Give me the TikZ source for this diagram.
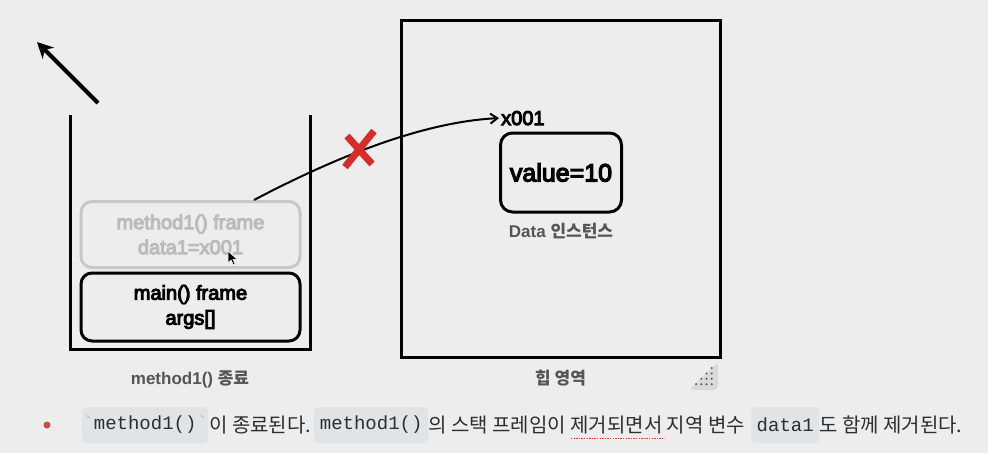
\documentclass[tikz,border=0pt]{standalone}
\usepackage{fontspec}
\usepackage{tikz}
\usetikzlibrary{arrows.meta}
\setmainfont{Liberation Sans}
\newfontfamily\medfont{Liberation Sans}[FakeBold = 5]
\newfontfamily\krfont{Noto Sans CJK KR}
\newfontfamily\codefont{Liberation Mono}
\definecolor{bg}{HTML}{EDEDED}
\definecolor{ghostgray}{HTML}{C8C8C8}
\definecolor{ghosttext}{HTML}{BBBBBB}
\definecolor{labelgray}{HTML}{555555}
\definecolor{crossred}{HTML}{D92B2B}
\definecolor{codebg}{HTML}{E1E3E4}
\definecolor{inkdark}{HTML}{2E2E2E}
\definecolor{bulletred}{HTML}{C94A4A}
\definecolor{spellred}{HTML}{D84040}
\definecolor{gripgray}{HTML}{DADADA}
\definecolor{gripdot}{HTML}{555555}

\begin{document}
\begin{tikzpicture}[x = 1pt, y = -1pt,
  stackframe/.style = {draw, line width = 3pt, rounded corners = 11pt,
    minimum width = 219pt, align = center,
    font = \medfont\fontsize{20}{25}\selectfont},
  ghost/.style = {stackframe, draw = ghostgray, text = ghosttext},
  heaplabel/.style = {text = labelgray, font = \bfseries\fontsize{17}{20}\selectfont},
  codespan/.style = {fill = codebg, rounded corners = 4pt, anchor = west,
    minimum height = 36pt, inner xsep = 0pt, text = inkdark,
    font = \codefont\fontsize{19}{22}\selectfont},
  prose/.style = {anchor = west, inner sep = 0pt, text = inkdark,
    font = \krfont\fontsize{20}{24}\selectfont}]
\fill [bg] (0, 0) rectangle (988, 453);
%\draw[very thin, color = gray] (0, 0) grid[step = 50] (988, 453);

% stack
\draw [line width = 3pt] (70, 115) |- (310, 349) -- (310, 115);
\node (m1) [ghost, minimum height = 66pt] at (190.5, 234.5) {method1() frame\\data1=x001};
\node (main) [stackframe, minimum height = 68pt] at (190.5, 307) {main() frame\\args[]};
\node (stacklbl) [heaplabel] at (190, 379) {method1() {\krfont 종료}};
\fill [black, draw = white, line width = 0.5pt] (228, 251) -- (228, 263) -- (231, 260)
  -- (233.5, 265) -- (235.2, 264.2) -- (232.9, 259.4) -- (237, 259.4) -- cycle;

% heap
\draw [line width = 3pt] (401, 20) rectangle (720, 357);
\node (data) [stackframe, minimum width = 121pt, minimum height = 79pt,
  rounded corners = 12pt, font = \medfont\fontsize{25}{30}\selectfont] at (561, 172.5) {value=10};
\node (datalbl) [heaplabel] at (561, 231) {Data {\krfont 인스턴스}};
\node (heaplbl) [heaplabel] at (560.5, 378.5) {{\krfont 힙 영역}};
\node (addr) [anchor = base west, inner sep = 0pt,
  font = \medfont\fontsize{20}{24}\selectfont] at (501, 125) {x001};

% reference that is gone
\coordinate (m1ref) at (254, 200);
\draw [line width = 2pt, -{Straight Barb[length = 7pt, width = 10pt]}]
  (m1ref) .. controls (330, 160) and (420, 122) .. ([xshift = -2pt]addr.west);
\draw [crossred, line width = 7pt] (347, 136) -- (372, 164) (374, 131) -- (345, 167);

% frame popped
\coordinate (popfrom) at (98, 103);
\coordinate (popto) at (37, 42);
\draw [line width = 4pt, -{Stealth[length = 16pt, width = 16pt, inset = 5pt]}] (popfrom) -- (popto);

% grip
\fill [gripgray, rounded corners = 4pt] (718, 362) -- (718, 390) -- (689, 390) -- cycle;
\foreach \r in {0, ..., 3}
  \foreach \c in {0, ..., \r}
    \fill [gripdot] (711.7 - 5.2 * \c, 368 + 5.4 * \r) circle (1.1);

% bottom line
\fill [bulletred] (47, 425) circle (3.5);
\node (code1) [codespan, minimum width = 126pt] at (82, 425)
  {\textcolor{ghosttext}{\symbol{96}}method1()\textcolor{ghosttext}{\symbol{96}}};
\node (said1) [prose] at (209, 425) {이 종료된다.};
\node (code2) [codespan, minimum width = 114pt] at (314, 425) {method1()};
\node (said2) [prose] at (428, 425) {의 스택 프레임이 제거되면서 지역 변수};
\node (code3) [codespan, minimum width = 68pt] at (751, 425) {data1};
\node (said3) [prose] at (819, 425) {도 함께 제거된다.};
\draw [spellred, line width = 1.3pt, dash pattern = on 1.3pt off 1.3pt] (571, 438.5) -- (663, 438.5);
\end{tikzpicture}
\end{document}
